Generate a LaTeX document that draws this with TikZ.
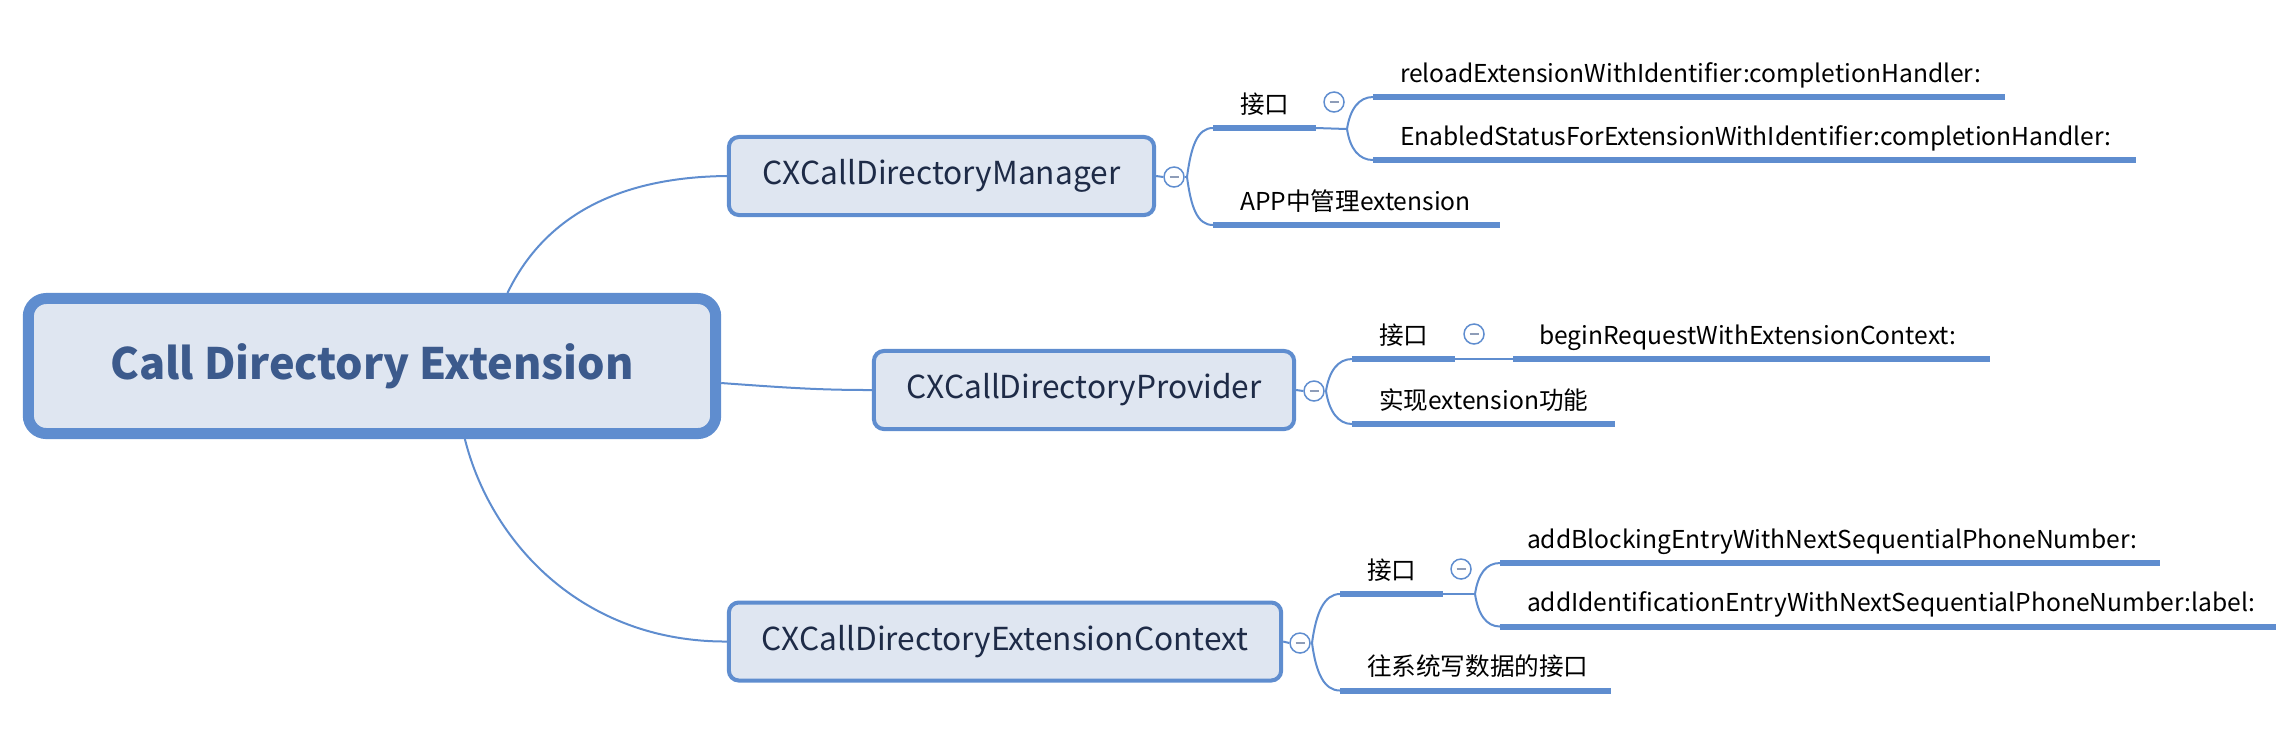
\documentclass[tikz,border=0pt]{standalone}
\usepackage{fontspec}
\setmainfont{Noto Sans CJK SC}
\usetikzlibrary{positioning, calc}

\definecolor{mapblue}{HTML}{5F8DCF}
\definecolor{mapfill}{HTML}{DFE6F1}
\definecolor{roottext}{HTML}{3C5A8C}
\definecolor{topictext}{HTML}{1E2B47}
\definecolor{minusgray}{HTML}{8E9DB8}

\tikzset{
  rootbox/.style={draw=mapblue, line width=0.11cm, fill=mapfill, rounded corners=0.18cm,
    minimum width=6.87cm, minimum height=1.35cm, text=roottext,
    font=\fontsize{12.3}{15}\selectfont\bfseries},
  topicbox/.style={draw=mapblue, line width=0.04cm, fill=mapfill, rounded corners=0.1cm,
    minimum height=0.78cm, text=topictext, font=\fontsize{9}{11}\selectfont},
  fold/.style={circle, draw=mapblue, line width=0.015cm, fill=white, minimum size=0.2cm,
    inner sep=0pt, text=minusgray},
  leaf/.style={anchor=south west, inner xsep=0.27cm, inner ysep=0.15cm, outer sep=0pt,
    text depth=0pt, align=left, font=\fontsize{7}{9}\selectfont},
  uline/.style={draw=mapblue, line width=0.06cm},
  branch/.style={draw=mapblue, line width=0.02cm},
}

\begin{document}
\begin{tikzpicture}[x=0.01cm, y=-0.01cm]
  \useasboundingbox (0,0) rectangle (2286,744);
  % main topics
  \node[rootbox] (root) at (372,366) {Call Directory Extension};
  \node[topicbox, minimum width=4.25cm] (mgr) at (941.5,176) {CXCallDirectoryManager};
  \node[topicbox, minimum width=4.20cm] (prov) at (1084,390) {CXCallDirectoryProvider};
  \node[topicbox, minimum width=5.52cm] (ctx) at (1005,641.5) {CXCallDirectoryExtensionContext};
  % fold marks
  \node[fold] (mgrc) at (1174,177) {\rule{0.09cm}{0.018cm}};
  \node[fold] (provc) at (1314,391) {\rule{0.09cm}{0.018cm}};
  \node[fold] (ctxc) at (1300,643) {\rule{0.09cm}{0.018cm}};
  \node[fold] (mgrifc) at (1334,102) {\rule{0.09cm}{0.018cm}};
  \node[fold] (provifc) at (1474,334) {\rule{0.09cm}{0.018cm}};
  \node[fold] (ctxifc) at (1461,569) {\rule{0.09cm}{0.018cm}};
  % leaves
  \node[leaf, text width=0.49cm] (mgrif) at (1213,128) {接口};
  \node[leaf, text width=2.33cm] (mgrapp) at (1213,225) {APP中管理extension};
  \node[leaf, text width=5.78cm] (reload) at (1373,97) {reloadExtensionWithIdentifier:completionHandler:};
  \node[leaf, text width=7.09cm] (enabled) at (1373,160) {EnabledStatusForExtensionWithIdentifier:completionHandler:};
  \node[leaf, text width=0.49cm] (provif) at (1352,359) {接口};
  \node[leaf, text width=2.09cm] (provimpl) at (1352,424) {实现extension功能};
  \node[leaf, inner xsep=0.26cm, text width=4.25cm] (begin) at (1513,359) {beginRequestWithExtensionContext:};
  \node[leaf, text width=0.49cm] (ctxif) at (1340,594) {接口};
  \node[leaf, text width=2.17cm] (ctxdata) at (1340,690.5) {往系统写数据的接口};
  \node[leaf, text width=6.06cm] (block) at (1500,563) {addBlockingEntryWithNextSequentialPhoneNumber:};
  \node[leaf, text width=7.22cm] (ident) at (1500,626.5) {addIdentificationEntryWithNextSequentialPhoneNumber:label:};
  \foreach \n in {mgrif, mgrapp, reload, enabled, provif, provimpl, begin, ctxif, ctxdata, block, ident}
    \draw[uline] (\n.south west) -- (\n.south east);
  % forks
  \coordinate (mgrf) at (1187,177);
  \coordinate (mgriff) at (1347,129);
  \coordinate (provf) at (1326,391);
  \coordinate (ctxf) at (1312,643);
  \coordinate (ctxiff) at (1475,594);
  % root links
  \draw[branch] ($(root.north west)!0.694!(root.north east)$) .. controls (545,215) and (620,177) .. (mgr.west);
  \draw[branch] ([yshift=-0.17cm]root.east) .. controls (790,388) and (820,390) .. (prov.west);
  \draw[branch] ($(root.south west)!0.633!(root.south east)$) .. controls (490,540) and (580,642) .. (ctx.west);
  % manager
  \draw[branch] (mgr.east) -- (mgrc.west);
  \draw[branch] (mgrc.east) -- (mgrf);
  \draw[branch] (mgrf) .. controls ($(mgrf)+(4,-30)$) and ($(mgrif.south west)+(-16,0)$) .. (mgrif.south west);
  \draw[branch] (mgrf) .. controls ($(mgrf)+(4,30)$) and ($(mgrapp.south west)+(-16,0)$) .. (mgrapp.south west);
  \draw[branch] (mgrif.south east) -- (mgriff);
  \draw[branch] (mgriff) .. controls ($(mgriff)+(3,-20)$) and ($(reload.south west)+(-14,0)$) .. (reload.south west);
  \draw[branch] (mgriff) .. controls ($(mgriff)+(3,20)$) and ($(enabled.south west)+(-14,0)$) .. (enabled.south west);
  % provider
  \draw[branch] (prov.east) -- (provc.west);
  \draw[branch] (provc.east) -- (provf);
  \draw[branch] (provf) .. controls ($(provf)+(3,-20)$) and ($(provif.south west)+(-14,0)$) .. (provif.south west);
  \draw[branch] (provf) .. controls ($(provf)+(3,20)$) and ($(provimpl.south west)+(-14,0)$) .. (provimpl.south west);
  \draw[branch] (provif.south east) -- (begin.south west);
  % context
  \draw[branch] (ctx.east) -- (ctxc.west);
  \draw[branch] (ctxc.east) -- (ctxf);
  \draw[branch] (ctxf) .. controls ($(ctxf)+(4,-30)$) and ($(ctxif.south west)+(-16,0)$) .. (ctxif.south west);
  \draw[branch] (ctxf) .. controls ($(ctxf)+(4,30)$) and ($(ctxdata.south west)+(-16,0)$) .. (ctxdata.south west);
  \draw[branch] (ctxif.south east) -- (ctxiff);
  \draw[branch] (ctxiff) .. controls ($(ctxiff)+(3,-20)$) and ($(block.south west)+(-14,0)$) .. (block.south west);
  \draw[branch] (ctxiff) .. controls ($(ctxiff)+(3,20)$) and ($(ident.south west)+(-14,0)$) .. (ident.south west);
\end{tikzpicture}
\end{document}
